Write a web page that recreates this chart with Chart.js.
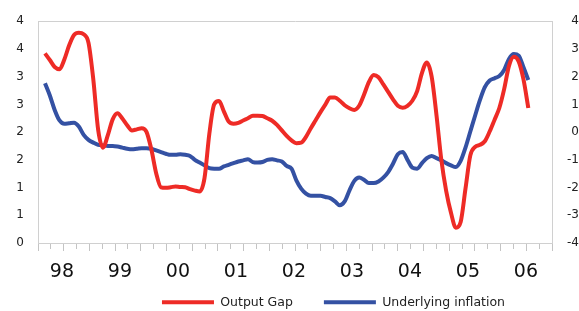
<!DOCTYPE html>
<html>
<head>
<meta charset="utf-8">
<script src="https://cdn.jsdelivr.net/npm/chart.js@4.4.0/dist/chart.umd.min.js"></script>
<style>
  html, body { margin: 0; padding: 0; background: #fff; }
</style>
</head>
<body>
<canvas id="gapChart" width="579" height="311"></canvas>
<script>
Chart.defaults.font.family = "'DejaVu Sans', sans-serif"
Chart.defaults.color = '#222'

// monthly data, first point is Mar 1998 (months counted from Jan 1998)
const firstMonth = 2
const yearLabels = ['98', '99', '00', '01', '02', '03', '04', '05', '06']

// output gap, right axis
const outputGap = [
    2.84, 2.60, 2.35, 2.27, 2.62, 3.13, 3.50, 3.58, 3.53, 3.22,
    1.89, 0.08, -0.56, -0.11, 0.46, 0.68, 0.49, 0.25, 0.06, 0.10,
    0.14, 0.01, -0.62, -1.48, -1.99, -2.01, -1.99, -1.96, -1.98, -1.99,
    -2.06, -2.11, -2.14, -1.66, -0.06, 1.00, 1.12, 0.75, 0.38, 0.30,
    0.33, 0.42, 0.50, 0.59, 0.59, 0.58, 0.50, 0.41, 0.26, 0.06,
    -0.14, -0.30, -0.40, -0.38, -0.17, 0.14, 0.43, 0.72, 0.99, 1.25,
    1.25, 1.13, 0.97, 0.86, 0.80, 0.95, 1.35, 1.80, 2.06, 1.98,
    1.72, 1.45, 1.18, 0.95, 0.88, 0.95, 1.13, 1.48, 2.14, 2.51,
    2.00, 0.61, -1.00, -2.12, -2.91, -3.45, -3.24, -2.04, -0.84, -0.53,
    -0.46, -0.33, 0.02, 0.44, 0.87, 1.55, 2.39, 2.72, 2.55, 1.90,
    0.87
]

// underlying inflation, left axis
const inflation = [
    2.88, 2.66, 2.40, 2.21, 2.15, 2.16, 2.17, 2.10, 1.95, 1.86,
    1.81, 1.77, 1.76, 1.75, 1.75, 1.74, 1.72, 1.70, 1.69, 1.70,
    1.71, 1.71, 1.70, 1.67, 1.64, 1.61, 1.59, 1.59, 1.60, 1.59,
    1.57, 1.50, 1.45, 1.40, 1.35, 1.34, 1.34, 1.38, 1.41, 1.44,
    1.47, 1.49, 1.51, 1.46, 1.45, 1.46, 1.50, 1.51, 1.49, 1.47,
    1.39, 1.34, 1.13, 0.98, 0.89, 0.85, 0.85, 0.85, 0.83, 0.81,
    0.75, 0.68, 0.75, 0.95, 1.12, 1.18, 1.14, 1.08, 1.08, 1.11,
    1.18, 1.28, 1.43, 1.60, 1.64, 1.50, 1.36, 1.34, 1.44, 1.53,
    1.57, 1.53, 1.49, 1.44, 1.40, 1.37, 1.48, 1.72, 2.01, 2.30,
    2.58, 2.81, 2.93, 2.97, 3.01, 3.12, 3.32, 3.41, 3.38, 3.17,
    2.94
]

const frameColor = '#d0d0d0'
const redLine = '#ee2b26'
const blueLine = '#3451a3'

const toPoints = vals => vals.map((v, i) => ({ x: firstMonth + i, y: v }))

// legend sits right of centre in the original, and the year labels
// hang a bit into the legend band, so let them draw past their box
const layoutTweak = {
    id: 'layoutTweak',
    afterLayout(chart) {
        chart.legend.left += 44
        chart.legend.right += 44
        chart.scales.x.bottom = chart.scales.x.top + 32
    }
}

const data = {
    datasets: [
        {
            label: 'Output Gap',
            data: toPoints(outputGap),
            borderColor: redLine,
            backgroundColor: redLine,
            borderWidth: 4,
            pointRadius: 0,
            cubicInterpolationMode: 'monotone',
            xAxisID: 'x',
            yAxisID: 'yR'
        },
        {
            label: 'Underlying inflation',
            data: toPoints(inflation),
            borderColor: blueLine,
            backgroundColor: blueLine,
            borderWidth: 4,
            pointRadius: 0,
            cubicInterpolationMode: 'monotone',
            xAxisID: 'x',
            yAxisID: 'yL'
        }
    ]
}

const options = {
    responsive: false,
    animation: false,
    layout: { padding: { top: 19, left: 0, right: 0, bottom: 0 } },
    plugins: {
        tooltip: { enabled: false },
        legend: {
            position: 'bottom',
            maxHeight: 46,
            labels: {
                boxWidth: 52,
                boxHeight: 4,
                padding: 31,
                color: '#222',
                font: { size: 12.5 },
                generateLabels: chart => Chart.defaults.plugins.legend.labels.generateLabels(chart)
                    .map(item => ({ ...item, lineWidth: 0 }))
            }
        }
    },
    scales: {
        x: {
            type: 'linear',
            position: 'bottom',
            weight: 1,
            min: 0.55,
            max: 106.9,
            afterBuildTicks: scale => {
                scale.ticks = yearLabels.map((l, i) => ({ value: i * 12 + 5.5 }))
            },
            afterFit: scale => { scale.height = 14 },
            grid: { display: false, drawTicks: false },
            border: { display: false },
            ticks: {
                callback: (v, i) => yearLabels[i],
                font: { size: 19 },
                color: '#111',
                padding: 10,
                autoSkip: false,
                maxRotation: 0
            }
        },
        xt: {
            type: 'linear',
            position: 'bottom',
            weight: 0,
            min: 0,
            max: 40,
            ticks: { display: false, stepSize: 1, maxTicksLimit: 100 },
            grid: {
                drawOnChartArea: false,
                tickLength: 8,
                tickColor: '#c4c4c4',
                tickBorderDash: ctx => ctx.index % 2 ? [5, 10] : []
            },
            border: { color: frameColor }
        },
        xTop: {
            type: 'linear',
            position: 'top',
            min: 0,
            max: 1,
            ticks: { display: false },
            grid: { display: false, drawTicks: false },
            border: { color: frameColor }
        },
        yL: {
            type: 'linear',
            position: 'left',
            min: 0,
            max: 4,
            afterFit: scale => { scale.width = 38 },
            ticks: {
                stepSize: 0.5,
                padding: 14,
                font: { size: 12 },
                callback: v => Math.round(v)
            },
            grid: { display: false, drawTicks: false },
            border: { color: frameColor }
        },
        yR: {
            type: 'linear',
            position: 'right',
            min: -4,
            max: 4,
            afterFit: scale => { scale.width = 27 },
            ticks: {
                stepSize: 1,
                padding: 10,
                crossAlign: 'far',
                font: { size: 12 }
            },
            grid: { display: false, drawTicks: false },
            border: { color: frameColor }
        }
    }
}

new Chart('gapChart', { type: 'line', data, options, plugins: [layoutTweak] })
</script>
</body>
</html>
